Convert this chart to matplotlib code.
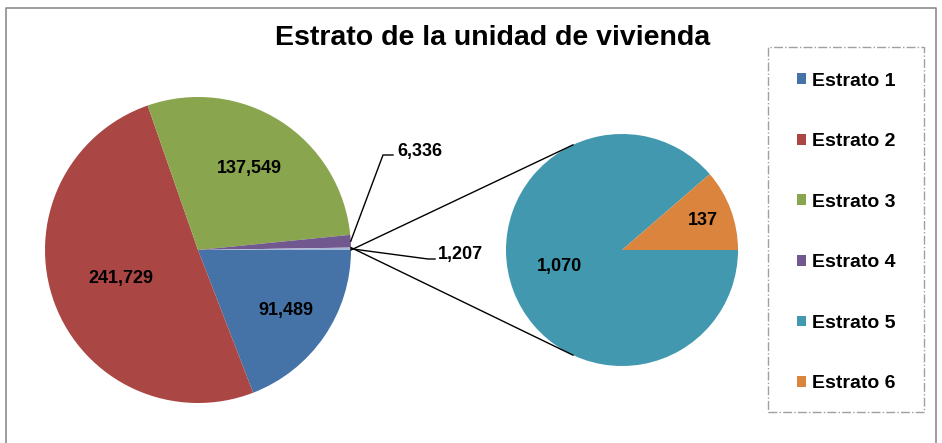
import numpy as np
import matplotlib.pyplot as plt
from matplotlib.patches import Rectangle

plt.rcParams['font.family'] = ['Liberation Sans', 'DejaVu Sans']
plt.rcParams['font.weight'] = 'bold'

title = 'Estrato de la unidad de vivienda'
main_labels = ['Estrato 1', 'Estrato 2', 'Estrato 3', 'Estrato 4']
main_values = [91489, 241729, 137549, 6336]
sub_labels = ['Estrato 5', 'Estrato 6']
sub_values = [1070, 137]
other_value = sum(sub_values)  # 1,207

main_colors = ['#4572A7', '#AA4643', '#89A54E', '#71588F']
other_color = '#A7B9D6'
sub_colors = ['#4198AF', '#DB843D']

W, H = 942, 443
fig = plt.figure(figsize=(W / 100, H / 100), dpi=100)
ax = fig.add_axes([0, 0, 1, 1])
ax.set_xlim(0, W)
ax.set_ylim(0, H)
ax.axis('off')

# main pie and secondary pie (pixel coordinates, y up)
c1, r1 = (198, H - 250), 153
c2, r2 = (622, H - 250), 116

w1, _ = ax.pie(main_values + [other_value], colors=main_colors + [other_color],
               startangle=0, counterclock=False, center=c1, radius=r1,
               wedgeprops=dict(linewidth=0))
w2, _ = ax.pie(sub_values, colors=sub_colors, startangle=0, counterclock=False,
               center=c2, radius=r2, wedgeprops=dict(linewidth=0))
ax.set_xlim(0, W)
ax.set_ylim(0, H)


def pt(c, r, ang):
    a = np.deg2rad(ang)
    return c[0] + r * np.cos(a), c[1] + r * np.sin(a)


def mid(w):
    return (w.theta1 + w.theta2) / 2


# value labels inside slices (distance as fraction of radius, angle tweak)
fs = 13
in_pos = [(0.70, 0), (0.54, 0), (0.63, 0)]
for w, v, (d, da) in zip(w1[:3], main_values[:3], in_pos):
    x, y = pt(c1, r1 * d, mid(w) + da)
    ax.text(x, y, f'{v:,}', ha='center', va='center', fontsize=fs, fontweight='bold')
for w, v, (d, da) in zip(w2, sub_values, [(0.56, -6), (0.74, 0)]):
    x, y = pt(c2, r2 * d, mid(w) + da)
    ax.text(x, y, f'{v:,}', ha='center', va='center', fontsize=fs, fontweight='bold')

# leader lines for the small slices
x0, y0 = pt(c1, r1, mid(w1[3]))
ax.plot([x0, 383, 393], [y0, H - 155, H - 155], color='black', lw=1)
ax.text(397, H - 151, f'{main_values[3]:,}', ha='left', va='center', fontsize=fs, fontweight='bold')
x0, y0 = pt(c1, r1, mid(w1[4]))
ax.plot([x0, 428, 435], [y0, H - 259, H - 259], color='black', lw=1)
ax.text(438, H - 254, f'{other_value:,}', ha='left', va='center', fontsize=fs, fontweight='bold')

# connector lines between the pies
a, b = pt(c1, r1, w1[4].theta1), pt(c1, r1, w1[4].theta2)
ax.plot([a[0], pt(c2, r2, 115)[0]], [a[1], pt(c2, r2, 115)[1]], color='black', lw=1)
ax.plot([b[0], pt(c2, r2, 245)[0]], [b[1], pt(c2, r2, 245)[1]], color='black', lw=1)

ax.text(493, H - 38, title, ha='center', va='center', fontsize=20.5, fontweight='bold')

# legend box
ax.add_patch(Rectangle((768, H - 412), 156, 365, fill=False, edgecolor='#A0A0A0',
                       lw=1, linestyle='-.'))
leg = ax.legend(list(w1[:4]) + list(w2), main_labels + sub_labels, loc='center',
                bbox_to_anchor=(846, H - 232.5), bbox_transform=ax.transData,
                frameon=False, prop=dict(size=14, weight='bold'),
                handlelength=0.47, handleheight=0.47, handletextpad=0.3,
                labelspacing=2.24)

# chart border
ax.plot([6, 6, 936, 936], [-5, H - 8, H - 8, -5], color='#8C8C8C', lw=1.2)

fig.savefig('out.png', dpi=100)
